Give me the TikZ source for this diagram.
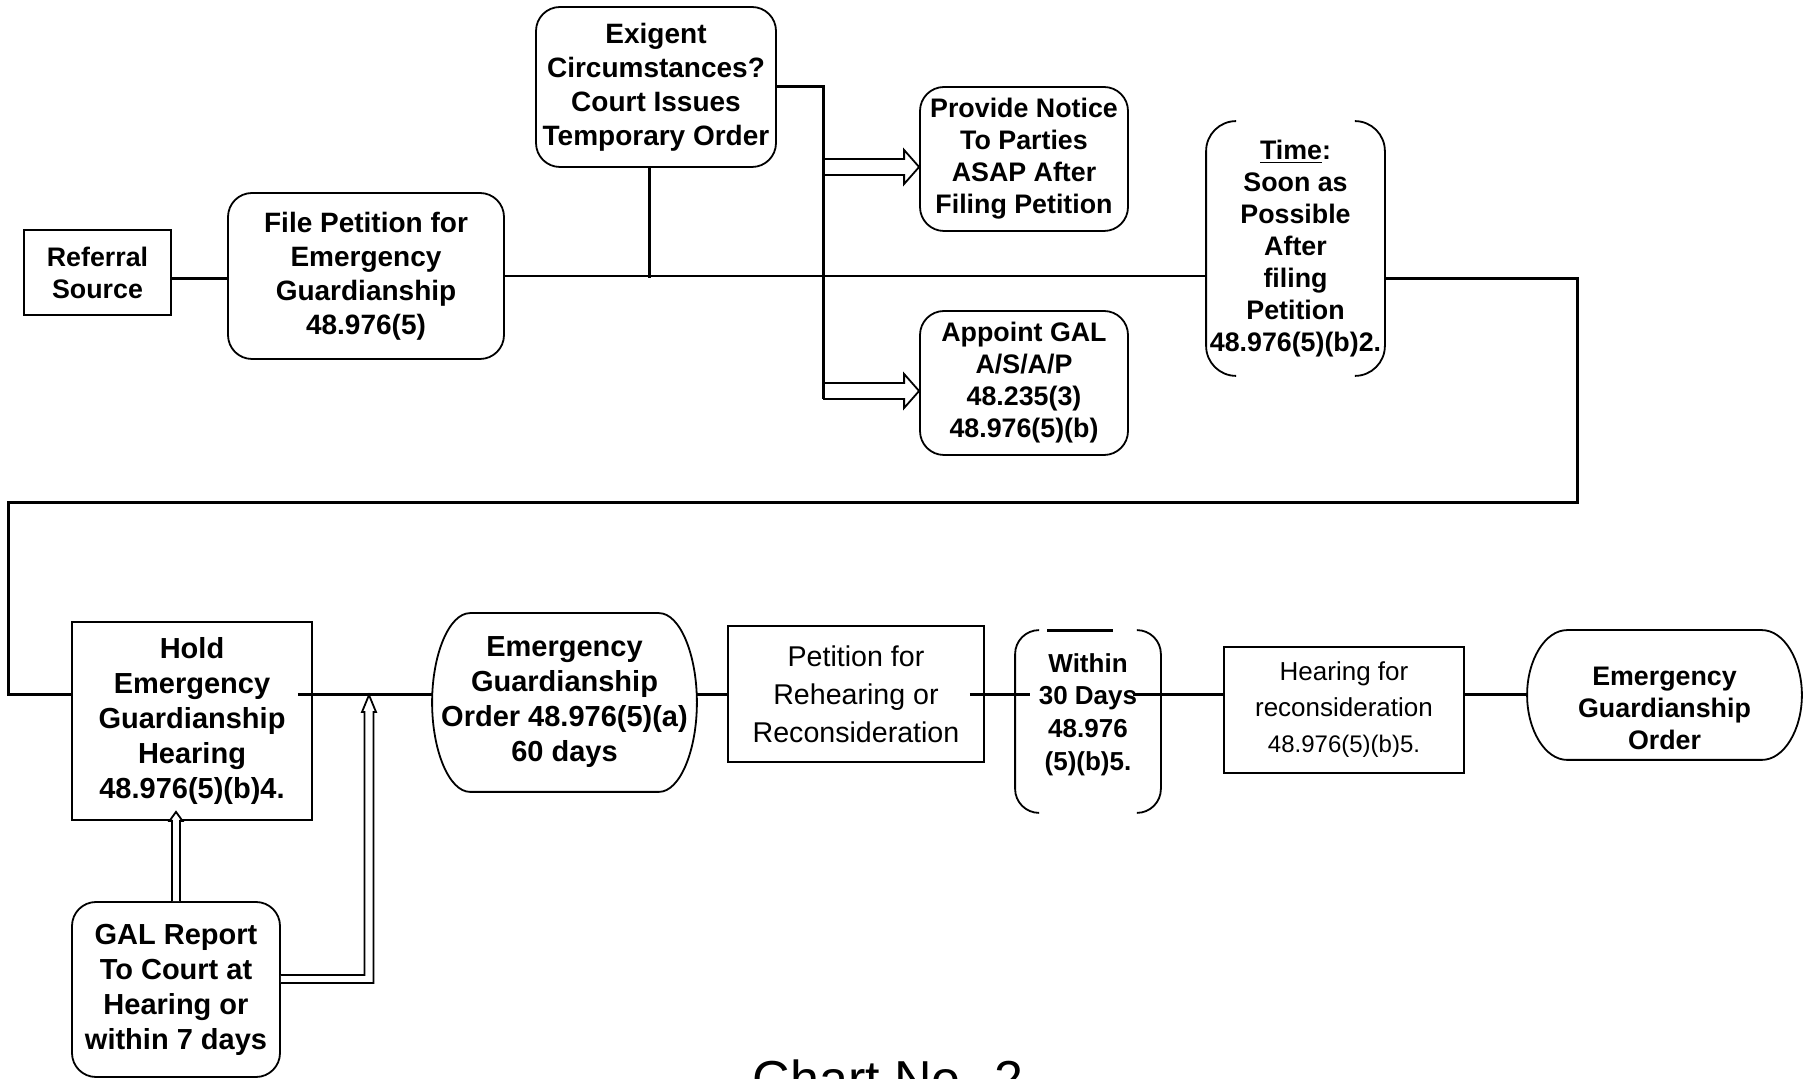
\documentclass[tikz,border=0pt]{standalone}
\usepackage{fontspec}
\setmainfont{Liberation Sans}
\usetikzlibrary{calc}

\begin{document}
\begin{tikzpicture}[%
    x=0.5pt,y=-0.5pt,
    plainbox/.style={%
      draw,line width=0.9pt,inner sep=0pt,align=center,
      font=\bfseries\fontsize{14}{17}\selectfont},
    roundbox/.style={plainbox,rounded corners=12pt},
    openbox/.style={plainbox,draw=none},
    smalltext/.style={font=\bfseries\fontsize{13.4}{16}\selectfont},
    bigtext/.style={font=\bfseries\fontsize{14.5}{17.5}\selectfont},
    link/.style={line width=0.9pt},
    heavy/.style={line width=1.5pt},
    fat/.style={line width=0.9pt,fill=white},
    rim/.style={line width=0.9pt,rounded corners=15pt}
  ]
    \useasboundingbox (0,0) rectangle (1811,1079);

    \node[plainbox,smalltext,minimum width=73.5pt,minimum height=42.5pt] (ref) at (97.5,272.5) {Referral\\Source};
    \node[roundbox,minimum width=138pt,minimum height=83pt] (file) at (366,276) {File Petition for\\Emergency\\Guardianship\\48.976(5)};
    \node[roundbox,minimum width=120pt,minimum height=80pt] (exig) at (656,87) {Exigent\\Circumstances?\\Court Issues\\Temporary Order};
    \node[roundbox,smalltext,minimum width=104pt,minimum height=72pt] (notice) at (1024,159) {Provide Notice\\To Parties\\ASAP After\\Filing Petition};
    \node[roundbox,smalltext,minimum width=104pt,minimum height=72pt] (gal) at (1024,383) {Appoint GAL\\A/S/A/P\\48.235(3)\\48.976(5)(b)};
    \node[openbox,smalltext,minimum width=88.5pt,minimum height=126.5pt] (time) at (1295.5,248.5) {\underline{Time}:\\Soon as\\Possible\\After\\filing\\Petition\\48.976(5)(b)2.};
    \node[plainbox,bigtext,minimum width=120pt,minimum height=99pt] (hold) at (192,721) {Hold\\Emergency\\Guardianship\\Hearing\\48.976(5)(b)4.};
    \node[openbox,bigtext,minimum width=131.5pt,minimum height=88.5pt] (order) at (564.5,702.5) {Emergency\\Guardianship\\Order 48.976(5)(a)\\60 days};
    \node[plainbox,font=\fontsize{14.3}{19}\selectfont,minimum width=128pt,minimum height=68pt] (rehear) at (856,694) {Petition for\\Rehearing or\\Reconsideration};
    \node[openbox,minimum width=72pt,minimum height=90.5pt,
      label={[font=\bfseries\fontsize{13}{16.3}\selectfont,align=center,yshift=3.5pt]center:Within\\30 Days\\48.976\\(5)(b)5.}] (within) at (1088,721.5) {};
    \node[plainbox,font=\fontsize{13}{18}\selectfont,minimum width=120pt,minimum height=63pt] (recon) at (1344,710) {Hearing for\\reconsideration\\{\fontsize{12}{18}\selectfont 48.976(5)(b)5.}};
    \node[openbox,minimum width=136.5pt,minimum height=64pt,
      label={[smalltext,align=center,yshift=-6.5pt]center:Emergency\\Guardianship\\Order}] (final) at (1664.5,695) {};
    \node[roundbox,bigtext,minimum width=104pt,minimum height=87.5pt] (report) at (176,989.5) {GAL Report\\To Court at\\Hearing or\\within 7 days};
    \node[font=\fontsize{26}{30}\selectfont,anchor=base] (chart) at (888,1097) {Chart No. 2};

    \coordinate (r1) at ([yshift=-3pt]ref.east);
    \coordinate (split) at (823,87);
    \coordinate (n1) at ([yshift=-4pt]notice.west);
    \coordinate (n2) at ([yshift=-4pt]gal.west);
    \coordinate (loopR) at (1577,503);
    \coordinate (loopL) at (8,503);
    \coordinate (h1) at ([yshift=13pt]hold.west);
    \coordinate (meet) at (369,695);

    % open outlines
    \draw[rim] ([xshift=15pt]time.north west) -- (time.north west) -- (time.south west) -- ([xshift=15pt]time.south west);
    \draw[rim] ([xshift=-15pt]time.north east) -- (time.north east) -- (time.south east) -- ([xshift=-15pt]time.south east);
    \draw[rim,rounded corners=12pt] ([xshift=12pt]within.north west) -- (within.north west) -- (within.south west) -- ([xshift=12pt]within.south west);
    \draw[rim,rounded corners=12pt] ([xshift=-12pt]within.north east) -- (within.north east) -- (within.south east) -- ([xshift=-12pt]within.south east);
    \draw[heavy] ([xshift=16pt]within.north west) -- ([xshift=-24pt]within.north east);

    \draw[link] ([xshift=19pt]order.north west) -- ([xshift=-19pt]order.north east)
      .. controls ([xshift=-8.5pt]order.north east) and ([yshift=24pt]order.east) .. (order.east)
      .. controls ([yshift=-24pt]order.east) and ([xshift=-8.5pt]order.south east) .. ([xshift=-19pt]order.south east)
      -- ([xshift=19pt]order.south west)
      .. controls ([xshift=8.5pt]order.south west) and ([yshift=-24pt]order.west) .. (order.west)
      .. controls ([yshift=24pt]order.west) and ([xshift=8.5pt]order.north west) .. ([xshift=19pt]order.north west) -- cycle;
    \draw[link] ([xshift=20pt]final.north west) -- ([xshift=-20pt]final.north east)
      .. controls ([xshift=-9pt]final.north east) and ([yshift=17.5pt]final.east) .. (final.east)
      .. controls ([yshift=-17.5pt]final.east) and ([xshift=-9pt]final.south east) .. ([xshift=-20pt]final.south east)
      -- ([xshift=20pt]final.south west)
      .. controls ([xshift=9pt]final.south west) and ([yshift=-17.5pt]final.west) .. (final.west)
      .. controls ([yshift=17.5pt]final.west) and ([xshift=9pt]final.north west) .. ([xshift=20pt]final.north west) -- cycle;

    % hollow arrows
    \draw[fat] ($(split |- n1)+(0,4pt)$) -- ($(n1)+(-7.5pt,4pt)$) -- ($(n1)+(-7.5pt,8.5pt)$) -- (n1)
      -- ($(n1)+(-7.5pt,-8.5pt)$) -- ($(n1)+(-7.5pt,-4pt)$) -- ($(split |- n1)+(0,-4pt)$);
    \draw[fat] ($(split |- n2)+(0,4pt)$) -- ($(n2)+(-7.5pt,4pt)$) -- ($(n2)+(-7.5pt,8.5pt)$) -- (n2)
      -- ($(n2)+(-7.5pt,-8.5pt)$) -- ($(n2)+(-7.5pt,-4pt)$) -- ($(split |- n2)+(0,-4pt)$);
    \draw[fat] ($(report.north)+(-2pt,0)$) -- ($(report.north |- hold.south)+(-2pt,0)$) -- ($(report.north |- hold.south)+(-3.25pt,0)$)
      -- ($(report.north |- hold.south)+(0,4.5pt)$) -- ($(report.north |- hold.south)+(3.25pt,0)$)
      -- ($(report.north |- hold.south)+(2pt,0)$) -- ($(report.north)+(2pt,0)$);
    \draw[fat] ($(report.east)+(0,7.25pt)$) -- ($(meet |- report.east)+(-2.25pt,7.25pt)$) -- ($(meet)+(-2.25pt,-8.5pt)$)
      -- ($(meet)+(-3.5pt,-8.5pt)$) -- (meet) -- ($(meet)+(3.5pt,-8.5pt)$) -- ($(meet)+(2.25pt,-8.5pt)$)
      -- ($(meet |- report.east)+(2.25pt,3.25pt)$) -- ($(report.east)+(0,3.25pt)$);

    % connectors
    \path[heavy] (r1) edge (r1 -| file.west);
    \path[link] (file.east) edge (file.east -| time.west);
    \draw[heavy] ([xshift=-3.5pt]exig.south) -- ($(exig.south |- file.east)+(-3.5pt,-1pt)$);
    \draw[heavy] (exig.east) -- (split) -- ($(split |- n2)+(0,-4pt)$);
    \draw[heavy] ([yshift=-15.25pt]time.east) -| (loopR) -- (loopL) |- (h1);
    \path[heavy] ($(hold.east |- meet)+(-7.5pt,0)$) edge (order.west |- meet)
                 (order.east |- meet) edge (rehear.west |- meet)
                 ($(rehear.east |- meet)+(-7.5pt,0)$) edge ($(within.west |- meet)+(7.5pt,0)$)
                 ($(within.east |- meet)+(-14pt,0)$) edge (recon.west |- meet)
                 (recon.east |- meet) edge (final.west |- meet);
\end{tikzpicture}
\end{document}
